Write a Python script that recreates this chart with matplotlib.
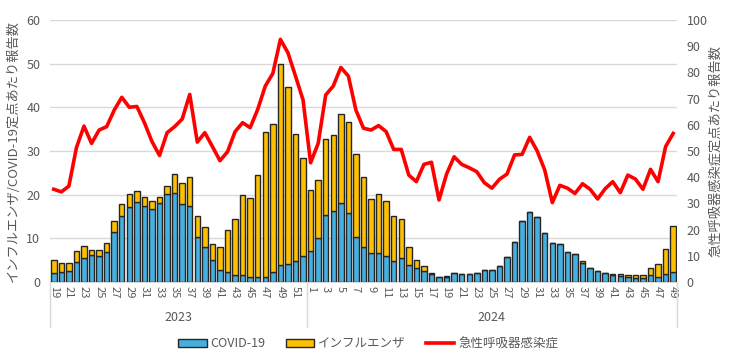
import matplotlib
matplotlib.use('Agg')
import matplotlib.pyplot as plt
import matplotlib.patches as mpatches
import matplotlib.lines as mlines
import matplotlib.transforms as mtrans
import numpy as np

plt.rcParams['font.family'] = ['Noto Sans CJK JP', 'DejaVu Sans']

# weeks: 2023 w19-52, 2024 w1-49
weeks_2023 = list(range(19, 53))
weeks_2024 = list(range(1, 50))

covid = [2.0, 2.2, 2.5, 4.6, 5.6, 6.1, 5.9, 6.9, 11.4, 15.2, 17.1, 18.3, 17.5, 16.7,
         18.2, 20.2, 20.3, 17.9, 17.3, 10.2, 7.9, 5.0, 2.7, 2.2, 1.5, 1.5, 1.1, 1.1,
         1.2, 2.2, 3.8, 4.1, 4.9, 6.0,
         7.0, 10.0, 15.3, 16.2, 18.1, 15.9, 10.2, 7.9, 6.6, 6.7, 5.9, 4.7, 5.6, 4.0,
         3.3, 2.6, 1.8, 1.1, 1.2, 2.0, 1.8, 1.8, 2.0, 2.7, 2.7, 3.7, 5.8, 9.2, 13.9,
         16.0, 14.9, 11.2, 9.0, 8.8, 6.9, 6.3, 4.3, 3.2, 2.5, 2.0, 1.7, 1.3, 1.1, 0.9,
         0.8, 1.6, 1.2, 1.8, 2.4]
total = [5.0, 4.3, 4.4, 7.0, 8.2, 7.3, 7.3, 8.9, 14.0, 17.9, 20.1, 20.9, 19.5, 18.6,
         19.5, 22.0, 24.8, 22.7, 24.1, 15.0, 12.6, 8.8, 8.1, 12.0, 14.4, 19.9, 19.2, 24.5,
         34.3, 36.2, 49.9, 44.7, 34.0, 28.5,
         21.1, 23.4, 32.7, 33.6, 38.5, 36.7, 29.3, 24.0, 19.0, 20.2, 18.5, 15.0, 14.4, 8.0,
         5.0, 3.6, 2.1, 1.2, 1.3, 2.1, 1.9, 1.9, 2.0, 2.7, 2.7, 3.7, 5.8, 9.2, 13.9,
         16.0, 14.9, 11.2, 9.0, 8.8, 6.9, 6.3, 4.8, 3.3, 2.6, 2.1, 1.8, 1.8, 1.7, 1.5,
         1.5, 3.1, 4.1, 7.6, 12.9]
ari = [35.4, 34.4, 36.6, 51.3, 59.5, 52.9, 58.0, 59.3, 65.6, 70.5, 66.7, 67.0, 60.8, 53.6,
       48.3, 57.0, 59.3, 62.2, 71.6, 53.4, 57.0, 51.7, 46.3, 49.7, 57.4, 60.8, 58.9, 65.9,
       74.8, 79.6, 92.6, 87.5, 78.6, 69.5,
       45.5, 52.9, 71.4, 74.8, 81.9, 78.6, 65.6, 58.7, 58.0, 59.7, 57.4, 50.6, 50.6, 40.8,
       38.3, 44.9, 45.7, 31.3, 41.2, 47.8, 44.9, 43.6, 42.1, 37.9, 35.8, 39.2, 41.2, 48.5,
       48.7, 55.2, 50.0, 42.7, 30.3, 36.9, 35.8, 33.8, 37.5, 35.4, 31.7, 35.6, 38.3, 34.1,
       40.8, 39.3, 35.4, 43.0, 38.3, 51.7, 56.7]
flu = [t - c for t, c in zip(total, covid)]

week_labels = weeks_2023 + weeks_2024
years = ['2023', '2024']

gray = '#595959'
x = np.arange(len(week_labels))

fig = plt.figure(figsize=(7.29, 3.64), dpi=100)
ax = fig.add_axes([0.0686, 0.2253, 0.86, 0.7197])
ax2 = ax.twinx()

ax.bar(x, covid, width=0.72, color='#45B0E0', edgecolor='#262626', linewidth=1.0, zorder=3)
ax.bar(x, flu, bottom=covid, width=0.72, color='#FFC000', edgecolor='#262626', linewidth=1.0, zorder=3)
ax2.plot(x, ari, color='#FF0000', linewidth=2.6, zorder=4)

ax.set_ylim(0, 60)
ax.set_yticks(range(0, 61, 10))
ax2.set_ylim(0, 100)
ax2.set_yticks(range(0, 101, 10))
ax.set_xlim(-0.5, len(x) - 0.5)
ax.grid(axis='y', color='#D9D9D9', linewidth=1.0, zorder=0)
ax.set_axisbelow(True)

ax.set_xticks(x)
ax.set_xticklabels([str(w) if w % 2 == 1 else '' for w in week_labels], rotation=-90)
ax.tick_params(axis='x', length=0, labelsize=8, colors=gray, pad=3)
ax.tick_params(axis='y', length=0, labelsize=9, colors=gray, pad=7)
ax2.tick_params(axis='y', length=0, labelsize=9, colors=gray, pad=7)

for a in (ax, ax2):
    for s in ('top', 'left', 'right'):
        a.spines[s].set_visible(False)
    a.spines['bottom'].set_color('#D9D9D9')
ax2.spines['bottom'].set_visible(False)

ax.set_ylabel('インフルエンザ/COVID-19定点あたり報告数', color=gray, fontsize=9.5, labelpad=5)
ax2.set_ylabel('急性呼吸器感染症定点あたり報告数', color=gray, fontsize=9.5, rotation=90, labelpad=1)

# year group separators and labels
trans = mtrans.blended_transform_factory(ax.transData, ax.transAxes)
n23 = len(weeks_2023)
for xs in (-0.5, n23 - 0.5, len(x) - 0.5):
    ax.plot([xs, xs], [0, -0.172], color='#D9D9D9', linewidth=1.0, transform=trans, clip_on=False)
ax.text((n23 - 1) / 2, -0.135, years[0], transform=trans, ha='center', va='center', fontsize=9, color=gray)
ax.text(n23 + (len(weeks_2024) - 1) / 2, -0.135, years[1], transform=trans, ha='center', va='center', fontsize=9, color=gray)

handles = [mpatches.Patch(facecolor='#45B0E0', edgecolor='#262626', linewidth=1.0, label='COVID-19'),
           mpatches.Patch(facecolor='#FFC000', edgecolor='#262626', linewidth=1.0, label='インフルエンザ'),
           mlines.Line2D([], [], color='#FF0000', linewidth=2.6, label='急性呼吸器感染症')]
leg = fig.legend(handles=handles, loc='center', bbox_to_anchor=(0.505, 0.055), ncol=3, frameon=False,
                 fontsize=9, handlelength=2.3, handleheight=0.6, columnspacing=1.6, handletextpad=0.3)
for t in leg.get_texts():
    t.set_color(gray)

fig.savefig('out.png', dpi=100)
